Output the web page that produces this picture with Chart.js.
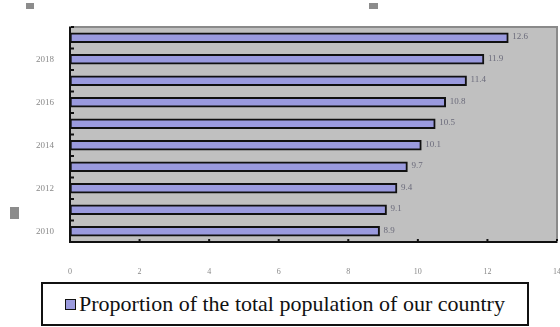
<!DOCTYPE html>
<html>
<head>
<meta charset="utf-8">
<script src="https://cdn.jsdelivr.net/npm/chart.js@4"></script>
<style>
    html, body {margin: 0; padding: 0; background: #fff;}
    #wrap {position: relative; width: 560px; height: 327px;}
    #legend {
        position: absolute; left: 41px; top: 282px; width: 484px; height: 40px;
        border: 2px solid #111; background: #fff;
        font-family: "Liberation Serif", "DejaVu Serif", serif; font-size: 22px; color: #111;
        display: flex; align-items: center; justify-content: center;
    }
    #legend span.box {
        display: inline-block; width: 9px; height: 9px; background: #9a9ade;
        border: 1.5px solid #111; margin-right: 3px;
    }
</style>
</head>
<body>
<div id="wrap">
    <canvas id="chart" width="560" height="280"></canvas>
    <div id="legend"><span class="box"></span>Proportion of the total population of our country</div>
</div>
<script>
const years = ["2010", "2011", "2012", "2013", "2014", "2015", "2016", "2017", "2018", "2019"];
const proportion = [8.9, 9.1, 9.4, 9.7, 10.1, 10.5, 10.8, 11.4, 11.9, 12.6];
const seriesName = "Proportion of the total population of our country";

let plotBackground = {
    beforeDraw: (chart) => {
        const {ctx, chartArea: {left, top, width, height}} = chart;
        ctx.save();
        ctx.fillStyle = "#c0c0c0";
        ctx.fillRect(left, top, width, height);
        ctx.strokeStyle = "#8a8a8a";
        ctx.lineWidth = 2;
        ctx.strokeRect(left, top, width, height);
        // stray grey marks from the original scan
        ctx.fillStyle = "#8c8c8c";
        ctx.fillRect(26, 3, 8, 6);
        ctx.fillRect(369, 3, 9, 6);
        ctx.fillRect(10, 207, 9, 12);
        ctx.restore();
    },
    afterDatasetsDraw: (chart) => {
        const {ctx, chartArea: {left, top, bottom, right}, scales: {x, y}} = chart;
        ctx.save();
        ctx.strokeStyle = "#111";
        ctx.lineWidth = 2;
        ctx.beginPath();
        ctx.moveTo(left, top);
        ctx.lineTo(left, bottom);
        ctx.lineTo(right, bottom);
        ctx.stroke();
        // small inner tick marks
        ctx.fillStyle = "#111";
        x.ticks.forEach((t, i) => {
            ctx.fillRect(x.getPixelForTick(i) - 1, bottom - 3, 2, 2);
        });
        const step = y.getPixelForTick(0) - y.getPixelForTick(1);
        for (let i = 0; i < y.ticks.length; i++) {
            ctx.fillRect(left + 1, y.getPixelForTick(i) - step / 2 - 1, 3, 2);
        }
        ctx.restore();
    }
}

let valueLabels = {
    afterDatasetsDraw: (chart) => {
        const {ctx} = chart;
        const meta = chart.getDatasetMeta(0);
        ctx.save();
        ctx.font = "9px 'Liberation Serif', serif";
        ctx.fillStyle = "#6a6a7a";
        ctx.textBaseline = "middle";
        meta.data.forEach((bar, i) => {
            ctx.fillText(proportion[i].toFixed(1), bar.x + 4, bar.y - 1);
        });
        ctx.restore();
    }
}

new Chart(document.getElementById("chart"), {
    type: "bar",
    data: {
        labels: years,
        datasets: [{
            label: seriesName,
            data: proportion,
            backgroundColor: "#9a9ade",
            borderColor: "#111",
            borderWidth: 2,
            borderSkipped: false,
            barThickness: 10
        }]
    },
    options: {
        indexAxis: "y",
        responsive: false,
        animation: false,
        layout: {padding: {top: 27, right: 0, left: 0, bottom: 0}},
        plugins: {legend: {display: false}, tooltip: {enabled: false}},
        scales: {
            x: {
                min: 0,
                max: 14,
                ticks: {
                    stepSize: 2,
                    color: "#888",
                    font: {family: "'Liberation Serif', serif", size: 8},
                    padding: 17
                },
                grid: {display: false},
                border: {display: false},
                afterFit: (scale) => {
                    scale.height = 38;
                    scale.paddingRight = 3;
                }
            },
            y: {
                reverse: true,
                ticks: {
                    autoSkip: false,
                    color: "#888",
                    font: {family: "'Liberation Serif', serif", size: 9},
                    padding: 8,
                    callback: function (value, index) {
                        return index % 2 === 0 ? years[index] : "";
                    }
                },
                grid: {display: false},
                border: {display: false},
                afterFit: (scale) => { scale.width = 70; }
            }
        }
    },
    plugins: [plotBackground, valueLabels]
});
</script>
</body>
</html>
